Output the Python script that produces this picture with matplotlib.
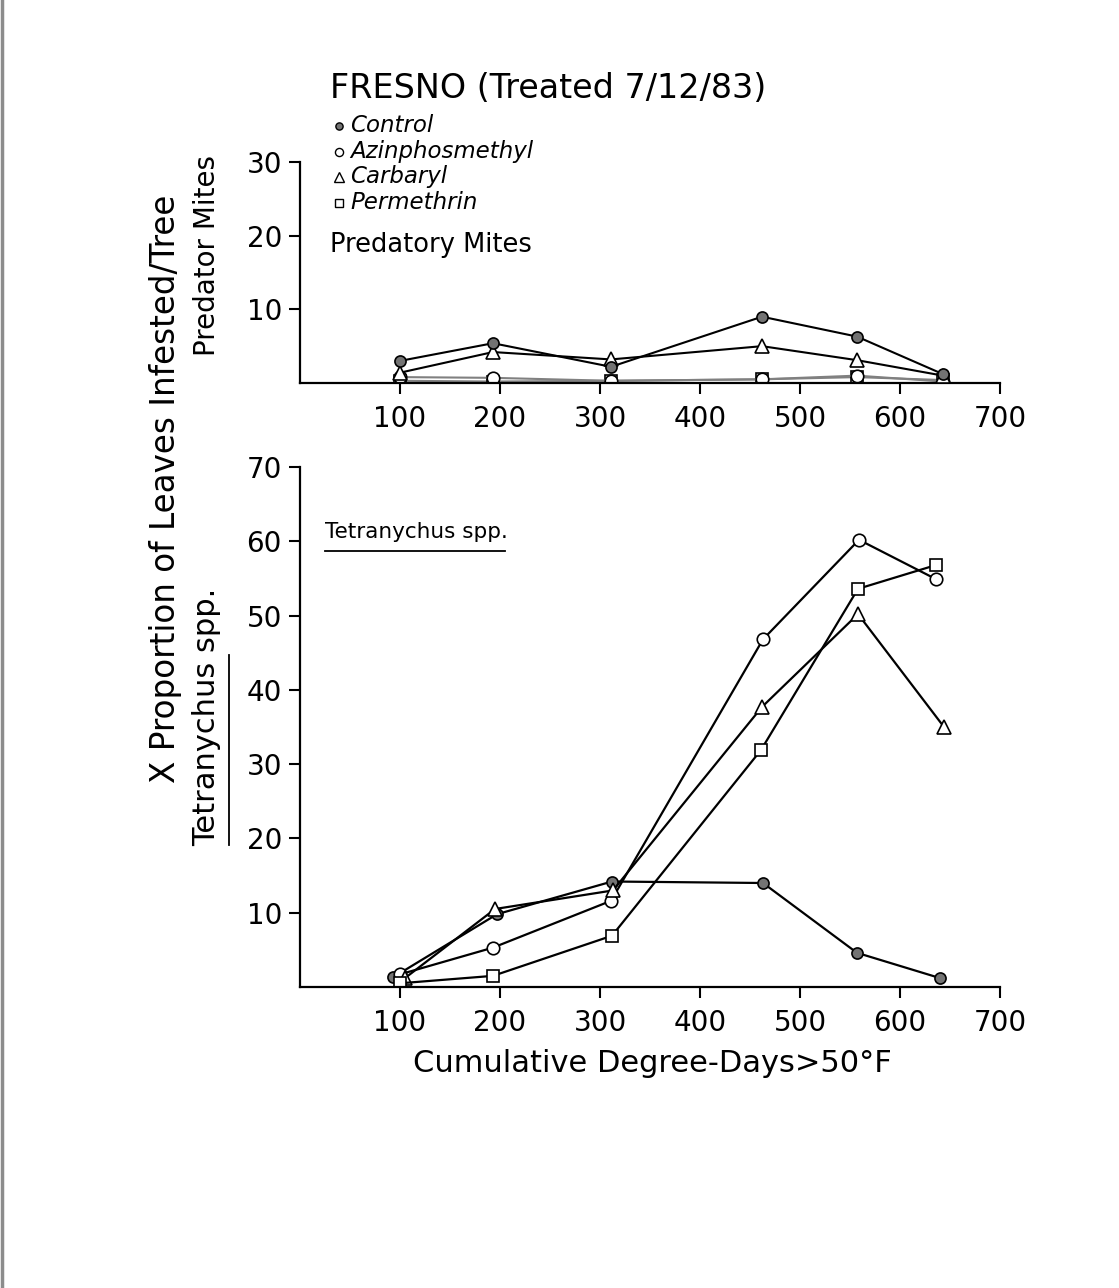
import numpy as np
import matplotlib.pyplot as plt
from matplotlib.lines import Line2D

# predatory mites (top panel)
pred_x = [100, 193, 311, 462, 557, 643]
pred_control = [3.0, 5.4, 2.2, 9.0, 6.3, 1.2]
pred_azin = [0.8, 0.7, 0.3, 0.5, 1.0, 0.2]
pred_carb = [1.4, 4.2, 3.2, 5.0, 3.1, 1.0]
pred_perm = [0.3, 0.2, 0.3, 0.5, 0.8, 0.4]

# Tetranychus spp. (bottom panel)
tet_control_x = [93, 197, 312, 463, 557, 640]
tet_control = [1.3, 9.8, 14.2, 14.0, 4.6, 1.2]
tet_azin_x = [100, 193, 311, 463, 559, 636]
tet_azin = [1.7, 5.3, 11.6, 46.8, 60.2, 54.9]
tet_carb_x = [105, 195, 313, 462, 558, 644]
tet_carb = [1.2, 10.5, 13.0, 37.7, 50.2, 35.0]
tet_perm_x = [100, 193, 312, 461, 558, 636]
tet_perm = [0.5, 1.5, 6.9, 31.9, 53.6, 56.8]

xticks = [100, 200, 300, 400, 500, 600, 700]
top_yticks = [10, 20, 30]
bot_yticks = [10, 20, 30, 40, 50, 60, 70]

W, H = 1119, 1288
fig = plt.figure(figsize=(W / 100, H / 100), dpi=100)


def rect(x0, y0, x1, y1):
    return [x0 / W, 1 - y1 / H, (x1 - x0) / W, (y1 - y0) / H]


styles = {
    'control': dict(marker='o', markerfacecolor='0.45', markeredgecolor='black', markersize=8),
    'azin': dict(marker='o', markerfacecolor='white', markeredgecolor='black', markersize=9),
    'carb': dict(marker='^', markerfacecolor='white', markeredgecolor='black', markersize=10),
    'perm': dict(marker='s', markerfacecolor='white', markeredgecolor='black', markersize=9),
}


def style_axes(ax, ymax, yticks):
    ax.set_xlim(0, 700)
    ax.set_ylim(0, ymax)
    ax.spines['top'].set_visible(False)
    ax.spines['right'].set_visible(False)
    ax.spines['left'].set_linewidth(1.6)
    ax.spines['bottom'].set_linewidth(1.6)
    ax.set_xticks(xticks)
    ax.set_yticks(yticks)
    ax.tick_params(direction='out', length=8, width=1.5, labelsize=20, pad=5)
    ax.tick_params(axis='x', pad=8)
    ax.set_facecolor('none')


ax1 = fig.add_axes(rect(300, 162, 1000, 383))
ax1.plot(pred_x, pred_perm, color='0.5', lw=1.5, markeredgewidth=1.2, **styles['perm'], zorder=2)
ax1.plot(pred_x, pred_azin, color='0.5', lw=1.5, markeredgewidth=1.2, **styles['azin'], zorder=2)
ax1.plot(pred_x, pred_carb, color='black', lw=1.5, markeredgewidth=1.2, **styles['carb'], zorder=3)
ax1.plot(pred_x, pred_control, color='black', lw=1.5, markeredgewidth=1.2, **styles['control'], zorder=3)
style_axes(ax1, 30, top_yticks)
ax1.text(30, 18.8, 'Predatory Mites', fontsize=18.5, ha='left', va='center')

ax2 = fig.add_axes(rect(300, 467, 1000, 987))
ax2.plot(tet_control_x, tet_control, color='black', lw=1.6, markeredgewidth=1.2, **styles['control'])
ax2.plot(tet_azin_x, tet_azin, color='black', lw=1.6, markeredgewidth=1.2, **styles['azin'])
ax2.plot(tet_carb_x, tet_carb, color='black', lw=1.6, markeredgewidth=1.2, **styles['carb'])
ax2.plot(tet_perm_x, tet_perm, color='black', lw=1.6, markeredgewidth=1.2, **styles['perm'])
style_axes(ax2, 70, bot_yticks)
ax2.text(25, 61.3, 'Tetranychus spp.', fontsize=15.5, ha='left', va='center')
ax2.plot([25, 205], [58.7, 58.7], color='black', lw=1.3, clip_on=False)

# title and legend
fig.text(330 / W, 1 - 88 / H, 'FRESNO (Treated 7/12/83)', fontsize=24, ha='left', va='center')
leg_items = [('control', 'Control'), ('azin', 'Azinphosmethyl'),
             ('carb', 'Carbaryl'), ('perm', 'Permethrin')]
for i, (key, name) in enumerate(leg_items):
    yy = 1 - (126 + i * 25.5) / H
    st = dict(styles[key])
    st['markersize'] = st['markersize'] * 0.65
    fig.add_artist(Line2D([339 / W], [yy], linestyle='none', markeredgewidth=1.0,
                          transform=fig.transFigure, **st))
    fig.text(350 / W, yy, name, fontsize=16.5, style='italic', ha='left', va='center')

# axis labels
fig.text(166 / W, 1 - 489 / H, 'X Proportion of Leaves Infested/Tree', fontsize=23.5,
         rotation=90, ha='center', va='center')
fig.text(207 / W, 1 - 255 / H, 'Predator Mites', fontsize=20,
         rotation=90, ha='center', va='center')
fig.text(207 / W, 1 - 717 / H, 'Tetranychus spp.', fontsize=22,
         rotation=90, ha='center', va='center')
fig.add_artist(Line2D([229 / W, 229 / W], [1 - 845 / H, 1 - 655 / H], color='black',
                      lw=1.3, transform=fig.transFigure))
fig.text(652 / W, 1 - 1063 / H, 'Cumulative Degree-Days>50\u00b0F', fontsize=22,
         ha='center', va='center')

# scanned page edge
fig.add_artist(Line2D([2 / W, 2 / W], [0, 1], color='0.55', lw=2.5,
                      transform=fig.transFigure))

fig.savefig('out.png', dpi=100)
